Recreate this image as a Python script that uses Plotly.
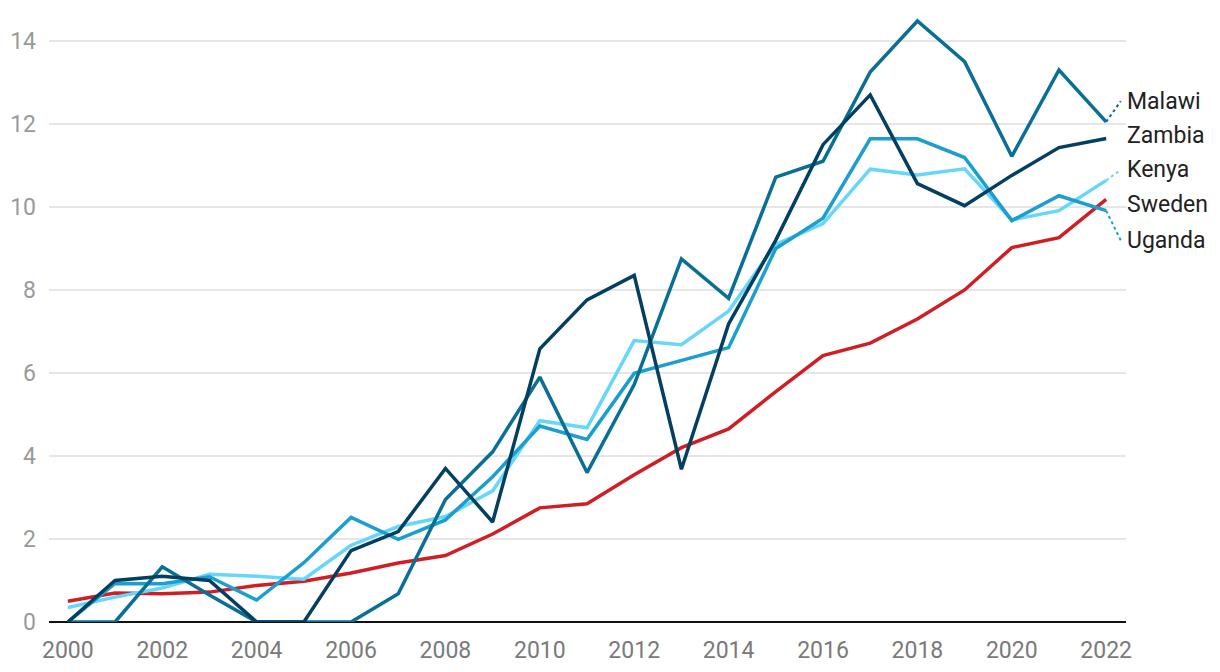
import plotly.graph_objects as go

years = list(range(2000, 2023))

malawi = [0, 0, 1.33, 0.65, 0, 0, 0, 0.68, 2.95, 4.1, 5.9, 3.6, 5.72, 8.75, 7.8, 10.72,
          11.1, 13.25, 14.48, 13.5, 11.22, 13.3, 12.05]
zambia = [0, 1.0, 1.1, 1.0, 0, 0, 1.72, 2.18, 3.7, 2.41, 6.58, 7.76, 8.35, 3.68, 7.18, 9.2,
          11.5, 12.7, 10.56, 10.03, 10.76, 11.43, 11.65]
kenya = [0.35, 0.6, 0.82, 1.15, 1.1, 1.03, 1.85, 2.3, 2.54, 3.16, 4.85, 4.68, 6.78, 6.68, 7.49, 9.1,
         9.6, 10.91, 10.77, 10.92, 9.69, 9.91, 10.64]
sweden = [0.5, 0.7, 0.68, 0.72, 0.88, 0.98, 1.18, 1.42, 1.6, 2.12, 2.75, 2.85, 3.55, 4.2, 4.65, 5.55,
          6.42, 6.72, 7.3, 8.0, 9.02, 9.26, 10.18]
uganda = [0, 0.93, 0.92, 1.09, 0.53, 1.43, 2.52, 1.99, 2.46, 3.5, 4.72, 4.4, 5.99, 6.31, 6.61, 9.0,
          9.73, 11.64, 11.64, 11.19, 9.67, 10.27, 9.91]

names = ["Malawi", "Zambia", "Kenya", "Sweden", "Uganda"]
series = [malawi, zambia, kenya, sweden, uganda]
colors = ["#0a6f95", "#033f60", "#66d6fb", "#cf1f25", "#1c9fcf"]
# label y positions (layout of direct labels)
label_y = [12.55, 11.71, 10.89, 10.05, 9.19]
connector = [True, False, True, False, True]

fig = go.Figure()
draw_order = [3, 2, 4, 0, 1]
for i in draw_order:
    fig.add_trace(go.Scatter(
        x=years, y=series[i], mode="lines", name=names[i],
        line=dict(color=colors[i], width=3.5), hoverinfo="skip", cliponaxis=False))

for i in range(5):
    if connector[i]:
        fig.add_trace(go.Scatter(
            x=[years[-1], years[-1] + 0.31], y=[series[i][-1], label_y[i]],
            mode="lines", line=dict(color=colors[i], width=2, dash="dot"),
            hoverinfo="skip", cliponaxis=False))
    fig.add_annotation(x=1, xref="paper", y=label_y[i], yref="y", text=names[i],
                       showarrow=False, xanchor="left", xshift=-1,
                       font=dict(family="Roboto", size=23, color="#222222"))

fig.update_layout(
    width=1220, height=672,
    margin=dict(l=41, r=102, t=8, b=58, autoexpand=False),
    plot_bgcolor="white", paper_bgcolor="white",
    showlegend=False, hovermode=False,
    font=dict(family="Roboto", size=23),
    xaxis=dict(range=[1999.6, 2022.42], tickmode="array", automargin=False,
               tickvals=list(range(2000, 2023, 2)),
               ticktext=[str(y) for y in range(2000, 2023, 2)],
               showgrid=False, zeroline=False, showline=False,
               ticks="outside", ticklen=7, tickcolor="rgba(0,0,0,0)",
               tickfont=dict(color="#7a7a7a", size=23)),
    yaxis=dict(range=[0, 14.6], tickmode="array", tickvals=list(range(0, 15, 2)),
               automargin=False,
               showgrid=True, gridcolor="#e6e6e6", gridwidth=2,
               zeroline=True, zerolinecolor="#111111", zerolinewidth=2,
               showline=False, ticks="", ticklabelstandoff=12,
               tickfont=dict(color="#9a9a9a", size=23)),
)

fig.write_html("out.html")
